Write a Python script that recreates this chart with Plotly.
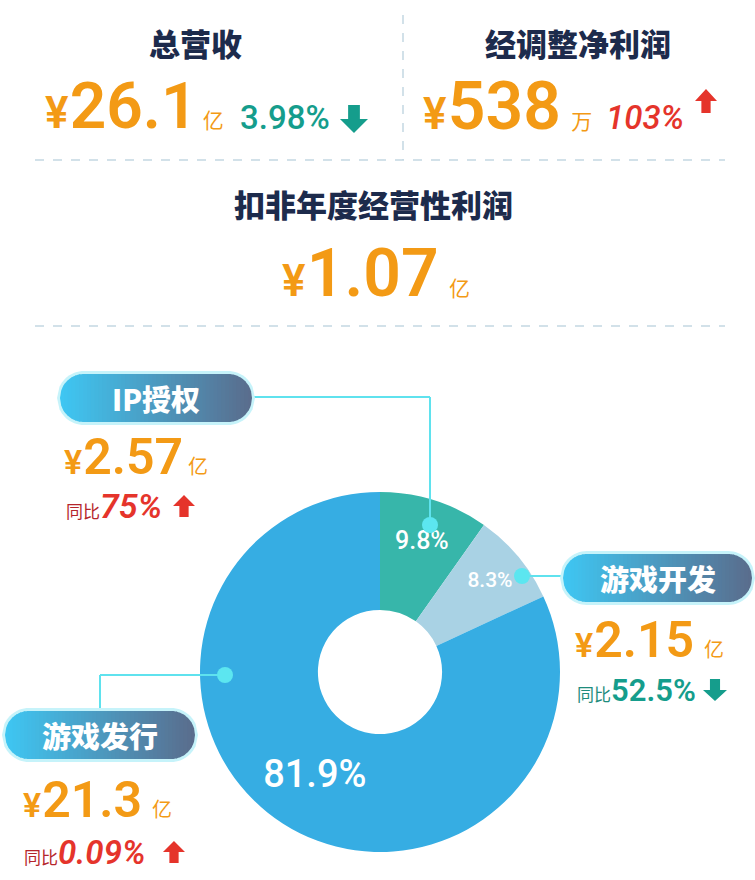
import math
import plotly.graph_objects as go

# figures read from the infographic
kpi_titles = ["总营收", "经调整净利润", "扣非年度经营性利润"]
kpi_values = ["26.1", "538", "1.07"]
kpi_units = ["亿", "万", "亿"]
kpi_change = ["3.98%", "103%", None]
kpi_dir = ["down", "up", None]

segments = ["IP授权", "游戏开发", "游戏发行"]
seg_revenue = ["2.57", "2.15", "21.3"]
seg_share = [9.8, 8.3, 81.9]
seg_yoy = ["75%", "52.5%", "0.09%"]
seg_dir = ["up", "down", "up"]

W, H = 755, 880
ORANGE = "#F39A15"
TEAL = "#159D8C"
RED = "#E5342B"
NAVY = "#1D2B4C"
NUMFONT = "Roboto, 'Noto Sans CJK SC'"
CJK = "'Noto Sans CJK SC'"


def X(x):
    return x / W


def Y(y):
    return 1 - y / H


shapes = []
annotations = []


def ann(x, y, text, size, color, xanchor="left", family=NUMFONT, weight="bold", style="normal"):
    annotations.append(dict(x=X(x), y=Y(y), xref="paper", yref="paper", text=text,
                            showarrow=False, xanchor=xanchor, yanchor="middle",
                            font=dict(size=size, color=color, family=family, weight=weight, style=style)))


def poly(pts, color):
    d = "M " + " L ".join(f"{X(a):.5f},{Y(b):.5f}" for a, b in pts) + " Z"
    shapes.append(dict(type="path", path=d, xref="paper", yref="paper",
                       fillcolor=color, line=dict(width=0), layer="above"))


def arrow(cx, cy, w, h, up, color):
    hh = h * 0.5
    sw = w * 0.42
    s = -1 if up else 1
    tip = cy + s * h / 2
    base = tip - s * hh
    tail = cy - s * h / 2
    poly([(cx, tip), (cx + w / 2, base), (cx + sw / 2, base), (cx + sw / 2, tail),
          (cx - sw / 2, tail), (cx - sw / 2, base), (cx - w / 2, base)], color)


def mix(c0, c1, t):
    a = [int(c0[i:i + 2], 16) for i in (1, 3, 5)]
    b = [int(c1[i:i + 2], 16) for i in (1, 3, 5)]
    return "#" + "".join(f"{round(a[k] + (b[k] - a[k]) * t):02X}" for k in range(3))


def half(x, x0, x1, r):
    if x < x0 + r:
        return math.sqrt(max(r * r - (x0 + r - x) ** 2, 0))
    if x > x1 - r:
        return math.sqrt(max(r * r - (x - (x1 - r)) ** 2, 0))
    return r


def pill(x0, x1, yc, h, label, n=50):
    # soft cyan rim
    g = 3
    r = h / 2 + g
    xs = [x0 - g + (x1 - x0 + 2 * g) * i / 80 for i in range(81)]
    top = [(x, yc - half(x, x0 - g, x1 + g, r)) for x in xs]
    bot = [(x, yc + half(x, x0 - g, x1 + g, r)) for x in reversed(xs)]
    poly(top + bot, "#C6F3FA")
    r = h / 2
    for i in range(n):
        xa = x0 + (x1 - x0) * i / n
        xb = min(x0 + (x1 - x0) * (i + 1) / n + 0.8, x1)
        pts = []
        k = 4
        for j in range(k + 1):
            x = xa + (xb - xa) * j / k
            pts.append((x, yc - half(x, x0, x1, r)))
        for j in range(k, -1, -1):
            x = xa + (xb - xa) * j / k
            pts.append((x, yc + half(x, x0, x1, r)))
        poly(pts, mix("#3EC7F3", "#5A6C8C", (i + 0.5) / n))
    ann((x0 + x1) / 2, yc, label, 29, "white", xanchor="center", family=CJK, weight=900)


def line(pts, color="#5FE2EE", width=2, dash="solid"):
    for (a, b), (c, d) in zip(pts[:-1], pts[1:]):
        shapes.append(dict(type="line", xref="paper", yref="paper", x0=X(a), y0=Y(b),
                           x1=X(c), y1=Y(d), line=dict(color=color, width=width, dash=dash)))


def dot(cx, cy, r=8, color="#5CE6F0"):
    shapes.append(dict(type="circle", xref="paper", yref="paper", x0=X(cx - r), x1=X(cx + r),
                       y0=Y(cy + r), y1=Y(cy - r), fillcolor=color, line=dict(width=0), layer="above"))


def money(x, y, value, unit, big, yen, small, gap=6, pad=" "):
    txt = (f"<span style='font-size:{yen}px'>¥</span><span style='font-size:{gap}px'> </span>{value}"
           f"<span style='font-size:{small}px;font-weight:normal'>{pad}{unit}</span>")
    ann(x, y, txt, big, ORANGE, weight=600)


def yoy(x, y, value, size, color, lead, style="italic"):
    txt = f"<span style='font-size:17px;color:{lead};font-weight:normal;font-style:normal'>同比</span>{value}"
    ann(x, y, txt, size, color, weight=600, style=style)


# dashed separators
line([(403, 15), (403, 160)], color="#C3D8E2", width=1.5, dash="dash")
line([(35, 160), (725, 160)], color="#C3D8E2", width=1.5, dash="dash")
line([(35, 326), (725, 326)], color="#C3D8E2", width=1.5, dash="dash")

# headline KPIs
ann(195, 42, kpi_titles[0], 31, NAVY, xanchor="center", family=CJK, weight=900)
ann(578, 42, kpi_titles[1], 31, NAVY, xanchor="center", family=CJK, weight=900)
ann(373, 203, kpi_titles[2], 31, NAVY, xanchor="center", family=CJK, weight=900)

money(43, 106, kpi_values[0], kpi_units[0], 64, 44, 21, gap=5)
ann(238, 118, kpi_change[0], 33, TEAL, weight=500)
arrow(354, 119, 28, 28, kpi_dir[0] == "up", TEAL)

money(421, 106, kpi_values[1], kpi_units[1], 66, 44, 21, gap=5, pad="  ")
ann(604, 118, kpi_change[1], 33, RED, weight=500, style="italic")
arrow(706, 101, 22, 24, kpi_dir[1] == "up", RED)

money(280, 274, kpi_values[2], kpi_units[2], 66, 44, 21, gap=5, pad="  ")

# donut
fig = go.Figure(go.Pie(
    values=seg_share, labels=segments, sort=False, direction="clockwise", rotation=0,
    hole=0.345, text=[f"{v}%" for v in seg_share], textinfo="text",
    textposition="inside", insidetextorientation="horizontal",
    textfont=dict(color="white", family=NUMFONT, size=[25, 21, 38], weight=500),
    marker=dict(colors=["#37B6AA", "#A9D2E4", "#36ADE3"], line=dict(width=0)),
    domain=dict(x=[X(200), X(560)], y=[Y(852), Y(492)]),
    showlegend=False, hoverinfo="label+value"))

# leader lines and dots
line([(252, 397), (430, 397), (430, 525)])
line([(522, 576), (562, 576)])
line([(225, 675), (100, 675), (100, 710)])
dot(430, 525)
dot(522, 576)
dot(225, 675)

# segment callouts
pill(60, 252, 398, 48, segments[0])
money(62, 457, seg_revenue[0], "亿", 50, 34, 20, gap=4)
yoy(64, 506, seg_yoy[0], 34, RED, "#B5252B")
arrow(184, 506, 22, 22, seg_dir[0] == "up", RED)

pill(563, 752, 578, 48, segments[1])
money(573, 640, seg_revenue[1], "亿", 50, 34, 20, gap=4, pad="  ")
yoy(575, 690, seg_yoy[1], 31, TEAL, "#1E8C7C", style="normal")
arrow(715, 690, 24, 22, seg_dir[1] == "up", TEAL)

pill(5, 195, 735, 48, segments[2])
money(21, 800, seg_revenue[2], "亿", 50, 34, 20, gap=4, pad="  ")
yoy(22, 852, seg_yoy[2], 33, RED, "#B5252B")
arrow(174, 852, 22, 22, seg_dir[2] == "up", RED)

fig.update_layout(width=W, height=H, margin=dict(l=0, r=0, t=0, b=0),
                  paper_bgcolor="white", plot_bgcolor="white",
                  shapes=shapes, annotations=annotations)

fig.write_html("out.html", config={"displayModeBar": False},
               post_script="document.body.style.margin='0';")
